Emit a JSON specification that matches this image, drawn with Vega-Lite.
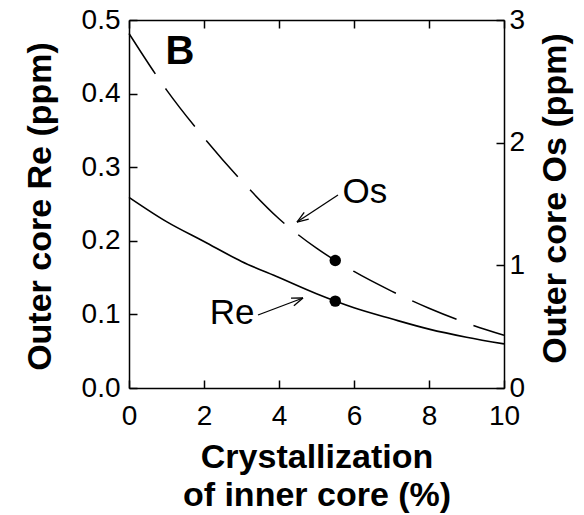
{
  "$schema": "https://vega.github.io/schema/vega-lite/v6.json",
  "autosize": {"type": "none"},
  "padding": {"left": 129, "top": 20, "right": 80, "bottom": 127},
  "width": 375,
  "height": 368,
  "background": "white",
  "config": {
    "view": {"stroke": null},
    "font": "Liberation Sans",
    "axis": {
      "grid": false,
      "domainColor": "black",
      "domainWidth": 1.5,
      "tickColor": "black",
      "tickWidth": 1.5,
      "labelColor": "black",
      "titleColor": "black",
      "labelFont": "Liberation Sans",
      "titleFont": "Liberation Sans",
      "labelFontSize": 28,
      "titleFontSize": 34,
      "titleFontWeight": "bold",
      "labelFlush": false,
      "labelOverlap": false
    }
  },
  "datasets": {
    "re": [
      {"x": 0, "v": 0.259}, {"x": 1, "v": 0.226}, {"x": 2, "v": 0.199}, {"x": 3, "v": 0.172},
      {"x": 4, "v": 0.150}, {"x": 5, "v": 0.128}, {"x": 6, "v": 0.109}, {"x": 7, "v": 0.094},
      {"x": 8, "v": 0.080}, {"x": 9, "v": 0.069}, {"x": 10, "v": 0.060}
    ],
    "os": [
      {"x": 0, "v": 2.89}, {"x": 1, "v": 2.43}, {"x": 2, "v": 2.04}, {"x": 3, "v": 1.69},
      {"x": 4, "v": 1.38}, {"x": 5, "v": 1.14}, {"x": 6, "v": 0.95}, {"x": 7, "v": 0.79},
      {"x": 8, "v": 0.65}, {"x": 9, "v": 0.53}, {"x": 10, "v": 0.43}
    ],
    "redot": [{"x": 5.5, "v": 0.118}],
    "osdot": [{"x": 5.5, "v": 1.04}],
    "arrows": [
      {"x": 5.573, "y": 0.2622, "x2": 4.48, "y2": 0.2255},
      {"x": 4.48, "y": 0.2255, "x2": 4.792, "y2": 0.2293},
      {"x": 4.48, "y": 0.2255, "x2": 4.672, "y2": 0.2386},
      {"x": 3.44, "y": 0.0992, "x2": 4.64, "y2": 0.1223},
      {"x": 4.64, "y": 0.1223, "x2": 4.32, "y2": 0.1221},
      {"x": 4.64, "y": 0.1223, "x2": 4.397, "y2": 0.1117}
    ],
    "labels": [
      {"x": 6.29, "y": 0.266, "t": "Os"},
      {"x": 2.75, "y": 0.102, "t": "Re"}
    ],
    "panel": [{"x": 1.36, "y": 0.4565, "t": "B"}]
  },
  "layer": [
    {
      "data": {"name": "re"},
      "mark": {"type": "line", "color": "black", "strokeWidth": 1.6, "interpolate": "monotone"},
      "encoding": {
        "x": {"field": "x", "type": "quantitative", "scale": {"domain": [0, 10]},
          "axis": {"orient": "bottom", "values": [0, 2, 4, 6, 8, 10], "tickSize": -8, "labelPadding": 22,
            "title": ["Crystallization", "of inner core (%)"], "titleLineHeight": 38,
            "titleX": 187.5, "titleY": 79, "titleAlign": "center", "titleBaseline": "alphabetic"}},
        "y": {"field": "v", "type": "quantitative", "scale": {"domain": [0, 0.5]},
          "axis": {"orient": "left", "values": [0, 0.1, 0.2, 0.3, 0.4, 0.5], "format": ".1f", "tickSize": -8, "labelPadding": 17,
            "title": "Outer core Re (ppm)", "titleX": -89, "titleY": 186, "titleAngle": 270,
            "titleAlign": "center", "titleBaseline": "middle"}}
      }
    },
    {
      "data": {"name": "os"},
      "mark": {"type": "line", "color": "black", "strokeWidth": 1.5, "interpolate": "monotone", "strokeDash": [48, 18]},
      "encoding": {
        "x": {"field": "x", "type": "quantitative", "scale": {"domain": [0, 10]},
          "axis": {"orient": "top", "values": [0, 2, 4, 6, 8, 10], "tickSize": -8, "labels": false, "title": null}},
        "y": {"field": "v", "type": "quantitative", "scale": {"domain": [0, 3]},
          "axis": {"orient": "right", "values": [0, 1, 2, 3], "tickSize": -8, "labelPadding": 13,
            "title": "Outer core Os (ppm)", "titleX": 51, "titleY": 178, "titleAngle": 270,
            "titleAlign": "center", "titleBaseline": "middle"}}
      }
    },
    {
      "data": {"name": "redot"},
      "mark": {"type": "point", "filled": true, "color": "black", "size": 130, "opacity": 1},
      "encoding": {
        "x": {"field": "x", "type": "quantitative", "scale": {"domain": [0, 10]}, "axis": null},
        "y": {"field": "v", "type": "quantitative", "scale": {"domain": [0, 0.5]}, "axis": null}
      }
    },
    {
      "data": {"name": "osdot"},
      "mark": {"type": "point", "filled": true, "color": "black", "size": 130, "opacity": 1},
      "encoding": {
        "x": {"field": "x", "type": "quantitative", "scale": {"domain": [0, 10]}, "axis": null},
        "y": {"field": "v", "type": "quantitative", "scale": {"domain": [0, 3]}, "axis": null}
      }
    },
    {
      "data": {"name": "arrows"},
      "mark": {"type": "rule", "color": "black", "strokeWidth": 1.3},
      "encoding": {
        "x": {"field": "x", "type": "quantitative", "scale": {"domain": [0, 10]}, "axis": null},
        "y": {"field": "y", "type": "quantitative", "scale": {"domain": [0, 0.5]}, "axis": null},
        "x2": {"field": "x2"},
        "y2": {"field": "y2"}
      }
    },
    {
      "data": {"name": "labels"},
      "mark": {"type": "text", "font": "Liberation Sans", "fontSize": 35, "color": "black", "align": "center", "baseline": "middle"},
      "encoding": {
        "x": {"field": "x", "type": "quantitative", "scale": {"domain": [0, 10]}, "axis": null},
        "y": {"field": "y", "type": "quantitative", "scale": {"domain": [0, 0.5]}, "axis": null},
        "text": {"field": "t"}
      }
    },
    {
      "data": {"name": "panel"},
      "mark": {"type": "text", "font": "Liberation Sans", "fontSize": 40, "fontWeight": "bold", "color": "black", "align": "center", "baseline": "middle"},
      "encoding": {
        "x": {"field": "x", "type": "quantitative", "scale": {"domain": [0, 10]}, "axis": null},
        "y": {"field": "y", "type": "quantitative", "scale": {"domain": [0, 0.5]}, "axis": null},
        "text": {"field": "t"}
      }
    }
  ],
  "resolve": {"scale": {"y": "independent"}, "axis": {"x": "independent", "y": "independent"}}
}
